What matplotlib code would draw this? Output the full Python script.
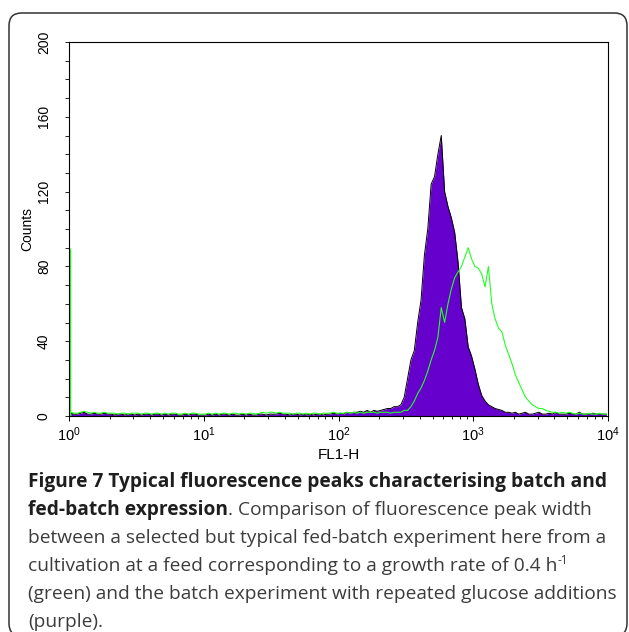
import numpy as np
import matplotlib
matplotlib.use('Agg')
import matplotlib.pyplot as plt
from matplotlib.patches import FancyBboxPatch
from matplotlib.ticker import FuncFormatter, LogLocator, MultipleLocator, NullFormatter

plt.rcParams['mathtext.fontset'] = 'custom'
plt.rcParams['mathtext.rm'] = 'Liberation Sans'

# Histogramme FL1-H : 160 classes de 0.025 décade entre 10^0 et 10^4
log_start = 0.0
bin_width = 0.025

# batch avec ajouts répétés de glucose (violet)
batch_counts = [
    1.5, 1, 1, 1.5, 2, 1, 1, 1.5, 1, 1, 1.5, 1, 1, 0.5, 1, 1, 0.5, 1, 1, 0.5,
    1, 0.5, 1, 1, 0.5, 1, 1, 0.5, 1, 0.5, 1, 1, 0.5, 0.5, 1, 0.5, 1, 1, 0.5, 0.5,
    0.5, 1, 0.5, 1, 0.5, 1, 1, 0.5, 1, 0.5, 0.5, 1, 0.5, 1, 0.5, 0.5, 1, 1, 0.5, 1,
    1, 1, 1.5, 1, 1, 0.5, 1, 1, 0.5, 1, 0.5, 1, 0.5, 1, 1, 0.5, 1, 1, 1.5, 1,
    1.5, 1, 2, 1.5, 2, 2, 2.5, 2, 3, 2, 3, 2.5, 3, 3.5, 4, 4, 5, 5, 6, 10,
    20, 30, 35, 50, 62, 86, 100, 124, 128, 140, 150, 120, 112, 106, 98, 82, 58, 52, 37, 32,
    25, 17, 11, 8, 6, 5, 4, 3.5, 3, 2, 2, 1.5, 2, 1, 1.5, 2, 1, 1, 1.5, 2,
    1, 1, 1.5, 1, 2, 1, 1, 1, 1.5, 1, 1, 2, 1, 1, 1, 1.5, 1, 1, 1, 1,
]

# fed-batch à 0.4 h-1 (vert)
fedbatch_counts = [
    2, 1.5, 1.5, 2, 2.5, 2, 1.5, 2, 1.5, 1.5, 2, 1.5, 1.5, 1.5, 1, 1.5, 1.5, 1, 1.5, 1.5,
    1.5, 1, 1.5, 1.5, 1, 1.5, 1.5, 1, 1.5, 1, 1.5, 1.5, 1, 1, 1.5, 1, 1.5, 1.5, 1, 1,
    1, 1.5, 1, 1.5, 1, 1.5, 1.5, 1, 1.5, 1.5, 1, 1.5, 1, 1.5, 1.5, 1, 1.5, 2, 1.5, 2,
    2, 1.5, 2, 1.5, 1.5, 1.5, 1, 1.5, 1.5, 1, 1.5, 1, 1.5, 1.5, 1, 1.5, 1.5, 1.5, 2, 1.5,
    1.5, 1.5, 2, 1.5, 2, 1.5, 2, 1.5, 2, 2, 2, 1.5, 2, 2, 2, 1.5, 2, 2, 2, 3,
    3, 5, 8, 12, 15, 19, 24, 30, 35, 42, 58, 50, 60, 68, 74, 77, 80, 85, 90, 84,
    80, 79, 76, 69, 80, 60, 52, 47, 45, 38, 33, 28, 22, 18, 14, 10, 8, 6, 5, 4,
    4, 3, 2.5, 2, 2, 1.5, 2, 1.5, 2, 1.5, 1, 1.5, 1, 1, 1.5, 1, 1, 1.5, 1, 1,
]

# premier canal saturé du fed-batch
spike_channel = 1.01
spike_count = 90

y_ticks = [0, 40, 80, 120, 160, 200]

caption_lines = [
    [("Figure 7 Typical fluorescence peaks characterising batch and", 'b')],
    [("fed-batch expression", 'b'), (". Comparison of fluorescence peak width", 'r')],
    [("between a selected but typical fed-batch experiment here from a", 'r')],
    [("cultivation at a feed corresponding to a growth rate of 0.4 h", 'r'), ("-1", 's')],
    [("(green) and the batch experiment with repeated glucose additions", 'r')],
    [("(purple).", 'r')],
]

W, H = 629, 632
fig = plt.figure(figsize=(W / 100, H / 100), dpi=100)

# cadre arrondi autour de la figure
box = FancyBboxPatch((9 / W, -4 / H), 618 / W, (H - 9) / H,
                     boxstyle="round,pad=0,rounding_size=0.02",
                     transform=fig.transFigure, fill=False,
                     edgecolor='#333333', linewidth=1.1)
fig.patches.append(box)

ax = fig.add_axes([69 / W, 1 - 416 / H, 539 / W, 374 / H])

centers = 10 ** (log_start + bin_width * (np.arange(len(batch_counts)) + 0.5))
ax.fill_between(centers, batch_counts, 0, color='#6600cc', linewidth=0)
ax.plot(centers, batch_counts, color='black', linewidth=0.7)
ax.plot(centers, fedbatch_counts, color='#22ff22', linewidth=0.8)
ax.vlines(spike_channel, 0, spike_count, color='#22ff22', linewidth=1.0)

ax.set_xscale('log')
ax.set_xlim(1, 1e4)
ax.set_ylim(0, 200)

ax.xaxis.set_major_locator(LogLocator(base=10))
ax.xaxis.set_minor_locator(LogLocator(base=10, subs=np.arange(2, 10)))
ax.xaxis.set_minor_formatter(NullFormatter())
ax.xaxis.set_major_formatter(FuncFormatter(lambda v, p: r'$\mathregular{10^{%d}}$' % round(np.log10(v))))

ax.yaxis.set_major_locator(MultipleLocator(40))
ax.yaxis.set_minor_locator(MultipleLocator(10))
ax.set_yticks(y_ticks)

for s in ax.spines.values():
    s.set_linewidth(0.8)

ax.tick_params(axis='x', which='major', direction='out', length=3.5, width=0.7, pad=3, labelsize=10.5)
ax.tick_params(axis='x', which='minor', direction='out', length=2.5, width=0.6)
ax.tick_params(axis='y', which='both', direction='out', length=3, width=0.6)
ax.tick_params(axis='y', which='major', pad=10)
for lab in ax.get_xticklabels():
    lab.set_family('Liberation Sans')
for lab in ax.get_yticklabels():
    lab.set_family('Liberation Sans')
    lab.set_fontsize(10)
    lab.set_rotation(90)
    lab.set_va('center')

ax.set_xlabel('FL1-H', family='Liberation Sans', fontsize=11, labelpad=3)
ax.set_ylabel('Counts', family='Liberation Sans', fontsize=10, labelpad=2)

# légende de la figure
styles = {
    'b': dict(family='Open Sans', weight='bold', fontsize=13.8, color='#1e1e1e'),
    'r': dict(family='Open Sans', fontsize=13.8, color='#3c3c3c'),
    's': dict(family='Open Sans', fontsize=8.5, color='#3c3c3c'),
}
renderer = fig.canvas.get_renderer()
baseline = 487
for line in caption_lines:
    x = 28 / W
    for text, key in line:
        y = 1 - baseline / H
        if key == 's':
            y += 7 / H
        t = fig.text(x, y, text, va='baseline', ha='left', **styles[key])
        x += t.get_window_extent(renderer=renderer).width / W
    baseline += 28

fig.savefig('out.png', dpi=100)
